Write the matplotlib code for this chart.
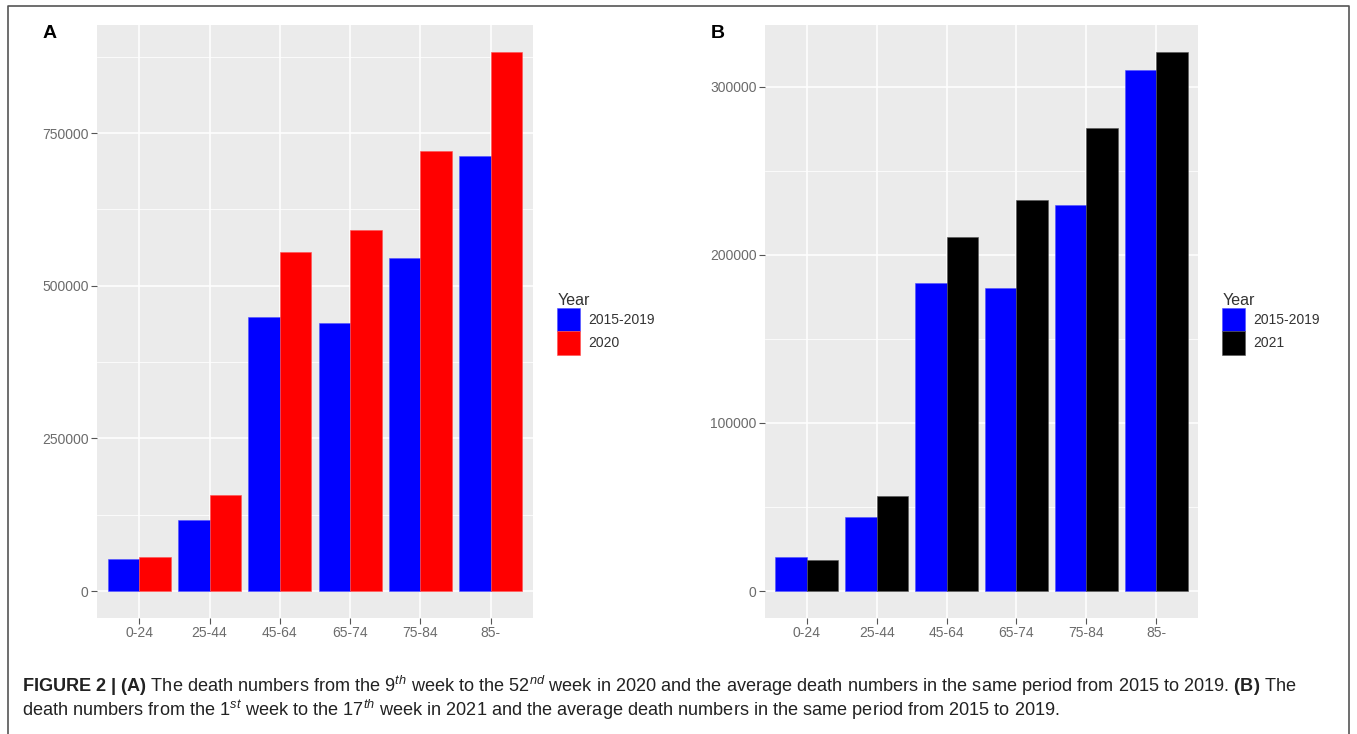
# plot.py
# Figure 2: death numbers by age group, two panels side by side (ggplot look).

import numpy as np
import matplotlib
matplotlib.use("Agg")
import matplotlib.pyplot as plt
from matplotlib.lines import Line2D

plt.rcParams["font.family"] = ["Liberation Sans", "DejaVu Sans"]
plt.rcParams["mathtext.fontset"] = "custom"
plt.rcParams["mathtext.rm"] = "Liberation Sans"
plt.rcParams["mathtext.it"] = "Liberation Sans:italic"
plt.rcParams["mathtext.bf"] = "Liberation Sans:bold"

# --- data ---
age_groups = ["0-24", "25-44", "45-64", "65-74", "75-84", "85-"]

# panel A: weeks 9-52
a_avg_2015_2019 = [52000, 116000, 449000, 439000, 545000, 712000]
a_2020 = [56000, 158000, 555000, 592000, 721000, 883000]
a_yticks = [0, 250000, 500000, 750000]

# panel B: weeks 1-17
b_avg_2015_2019 = [20400, 44200, 183000, 180500, 229800, 309700]
b_2021 = [18500, 56800, 210600, 232500, 275200, 320600]
b_yticks = [0, 100000, 200000, 300000]

W, H = 1357, 734
fig = plt.figure(figsize=(W / 100, H / 100), dpi=100)


def px_axes(x0, y0, x1, y1):
    # pixel box (top-left origin) -> figure axes
    return fig.add_axes([x0 / W, 1 - y1 / H, (x1 - x0) / W, (y1 - y0) / H])


def gg_panel(ax, base, other, other_label, other_color, yticks):
    x = np.arange(1, len(age_groups) + 1)
    bw = 0.45
    b1 = ax.bar(x - bw / 2, base, width=bw, color="#0000FF", zorder=3,
                edgecolor="#5050FF", linewidth=0.4, label="2015-2019")
    edge2 = "#555555" if other_color == "#000000" else "#FF5050"
    b2 = ax.bar(x + bw / 2, other, width=bw, color=other_color, zorder=3,
                edgecolor=edge2, linewidth=0.4, label=other_label)

    top = max(max(base), max(other))
    ax.set_xlim(0.4, len(age_groups) + 0.6)
    ax.set_ylim(-0.05 * top, 1.05 * top)

    ax.set_facecolor("#EBEBEB")
    for s in ax.spines.values():
        s.set_visible(False)

    ax.set_xticks(x)
    ax.set_xticklabels(age_groups)
    ax.set_yticks(yticks)
    ax.set_yticklabels([str(v) for v in yticks])
    step = yticks[1] - yticks[0]
    minor = [v + step / 2 for v in yticks if v + step / 2 < 1.05 * top]
    ax.set_yticks(minor, minor=True)
    ax.tick_params(axis="y", which="minor", length=0)

    ax.grid(True, which="major", color="white", linewidth=1.1, zorder=0)
    ax.grid(True, which="minor", axis="y", color="white", linewidth=0.55, zorder=0)
    ax.set_axisbelow(True)

    ax.tick_params(axis="both", which="major", length=4, width=0.8,
                   color="#555555", labelcolor="#6B6B6B", labelsize=10, pad=2)
    return b1, b2


axA = px_axes(97, 25, 533, 618)
hA = gg_panel(axA, a_avg_2015_2019, a_2020, "2020", "#FF0000", a_yticks)

axB = px_axes(765, 25, 1198, 618)
hB = gg_panel(axB, b_avg_2015_2019, b_2021, "2021", "#000000", b_yticks)

# legends
for ax, handles, lx in [(axA, hA, 553), (axB, hB, 1218)]:
    leg = ax.legend(handles=handles, title="Year", loc="upper left",
                    bbox_to_anchor=(lx / W, 1 - 289 / H),
                    bbox_transform=fig.transFigure, frameon=False,
                    fontsize=10, title_fontsize=11.5, handlelength=1.65,
                    handleheight=2.2, labelspacing=0.0, handletextpad=0.6,
                    alignment="left", borderpad=0.3, borderaxespad=0)
    for t in leg.get_texts():
        t.set_color("#333333")
    leg.get_title().set_color("#333333")

# panel letters
fig.text(43 / W, 1 - 34 / H, "A", fontsize=14, fontweight="bold", va="center")
fig.text(711 / W, 1 - 34 / H, "B", fontsize=14, fontweight="bold", va="center")

# caption
line1 = (r"$\mathbf{FIGURE\ 2\ |\ (A)}$ The death numbers from the 9$^{th}$ week "
         r"to the 52$^{nd}$ week in 2020 and the average death numbers in the "
         r"same period from 2015 to 2019. $\mathbf{(B)}$ The")
line2 = (r"death numbers from the 1$^{st}$ week to the 17$^{th}$ week in 2021 and "
         r"the average death numbers in the same period from 2015 to 2019.")
fig.text(22 / W, 1 - 686 / H, line1, fontsize=13.1, va="center", color="#222222")
fig.text(22 / W, 1 - 710 / H, line2, fontsize=13.1, va="center", color="#222222")

# outer frame (open at the bottom)
frame_x = [8 / W, 8 / W, 1349 / W, 1349 / W]
frame_y = [0, 1 - 6 / H, 1 - 6 / H, 0]
fig.add_artist(Line2D(frame_x, frame_y, color="#555555", linewidth=1.2,
                      transform=fig.transFigure))

fig.savefig("out.png", dpi=100)
